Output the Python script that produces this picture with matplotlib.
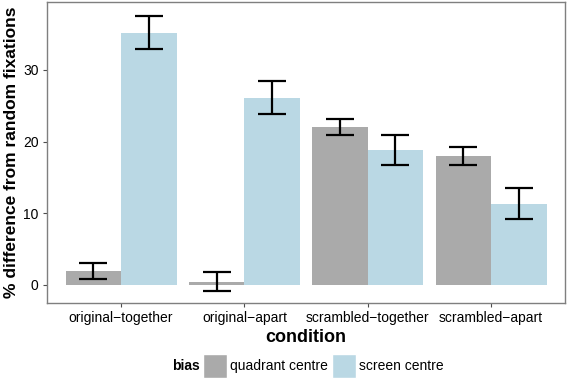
import numpy as np
import matplotlib
matplotlib.use("Agg")
import matplotlib.pyplot as plt
from matplotlib.patches import Patch

plt.rcParams['font.family'] = ['Liberation Sans', 'DejaVu Sans']

conditions = ["original\u2212together", "original\u2212apart",
              "scrambled\u2212together", "scrambled\u2212apart"]
bias = ["quadrant centre", "screen centre"]
quadrant = [1.9, 0.45, 22.0, 18.0]
quadrant_lo = [0.8, -0.85, 20.9, 16.8]
quadrant_hi = [3.05, 1.8, 23.2, 19.2]
screen = [35.2, 26.1, 18.9, 11.3]
screen_lo = [32.9, 23.8, 16.8, 9.2]
screen_hi = [37.6, 28.5, 20.9, 13.5]

colors = ["#AAAAAA", "#BAD8E4"]

fig = plt.figure(figsize=(5.67, 3.80), dpi=100)
ax = fig.add_axes([0.083, 0.203, 0.9135, 0.792])

x = np.arange(1, len(conditions) + 1)
w = 0.45
series = [(quadrant, quadrant_lo, quadrant_hi), (screen, screen_lo, screen_hi)]
for i, (vals, lo, hi) in enumerate(series):
    pos = x + (i - 0.5) * w
    ax.bar(pos, vals, width=w, color=colors[i], edgecolor="none", zorder=2)
    vals = np.array(vals)
    err = [vals - np.array(lo), np.array(hi) - vals]
    ax.errorbar(pos, vals, yerr=err, fmt="none", ecolor="black",
                elinewidth=1.6, capsize=10, capthick=1.6, zorder=3)

ax.set_xlim(0.4, 4.6)
ax.set_ylim(-2.5, 39.5)
ax.set_xticks(x)
ax.set_xticklabels(conditions, fontsize=10)
ax.set_yticks([0, 10, 20, 30])
ax.tick_params(axis="both", labelsize=10, colors="#4D4D4D", length=3,
               labelcolor="black", pad=3)
for s in ax.spines.values():
    s.set_color("#7F7F7F")
    s.set_linewidth(1.0)

ax.set_xlabel("condition", fontsize=13, fontweight="bold", labelpad=2.5)
ax.set_ylabel("% difference from random fixations", fontsize=12.5,
              fontweight="bold", labelpad=3)

# legend: bold title on the left, entries in one row
fig.text(172 / 567, 1 - 366 / 380, "bias", fontsize=10, fontweight="bold",
         ha="left", va="center")
handles = [Patch(facecolor=colors[0], edgecolor="white"),
           Patch(facecolor=colors[1], edgecolor="white")]
fig.legend(handles, bias, loc="center left",
           bbox_to_anchor=(203 / 567, 1 - 366 / 380),
           ncol=2, frameon=False, fontsize=10, borderpad=0, borderaxespad=0,
           handlelength=1.7, handleheight=2.2, handletextpad=0.25,
           columnspacing=0.3)

fig.savefig("out.png", dpi=100)
